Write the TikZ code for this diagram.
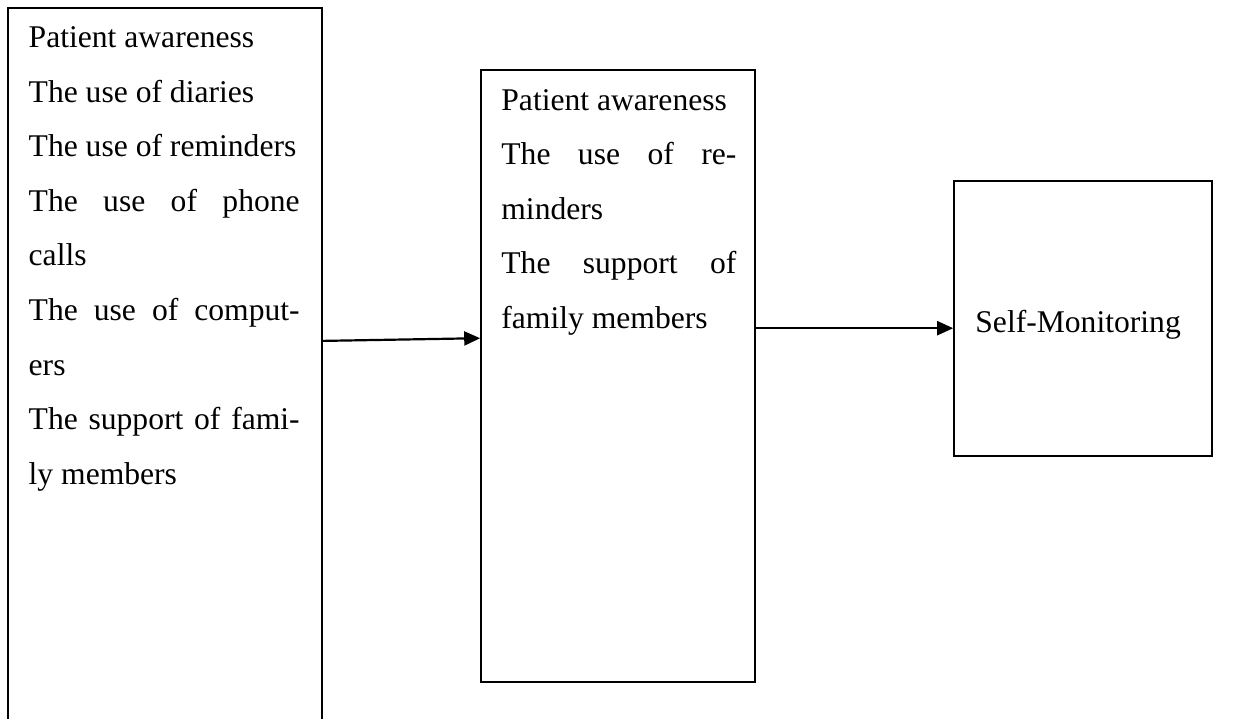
\documentclass[tikz,border=0pt]{standalone}
\usepackage{fontspec}
\setmainfont{Liberation Serif}
\usetikzlibrary{%
  arrows.meta,%
  positioning,%
  calc%
}
\tolerance=10000
\hbadness=10000

\begin{document}
\begin{tikzpicture}[
  x=1pt,y=-1pt,
  font=\fontsize{31.6}{54.6}\selectfont,
  >={Triangle[length=16pt,width=14pt]},
  block/.style={draw,line width=1.6pt,inner sep=0pt},
  itemtext/.style={anchor=base west,inner sep=0pt,align=justify},
  link/.style={->,line width=2.2pt},
]
\useasboundingbox (0,0) rectangle (1248,719);

% boxes
\node[block,minimum width=314pt,minimum height=732pt] (causes) at (165,374) {};
\node[block,minimum width=274pt,minimum height=612pt] (mediators) at (618,376) {};
\node[block,minimum width=258pt,minimum height=275pt] (outcome) at (1083,318.5) {};

% texts
\node[itemtext,text width=271pt] (causestext)
  at ([shift={(21.3pt,-40.3pt)}]causes.north west) {%
  Patient awareness\par
  The use of diaries\par
  The use of reminders\par
  The use of phone\linebreak calls\par
  The use of comput-\linebreak ers\par
  The support of fami-\linebreak ly members};
\node[itemtext,text width=235pt] (mediatorstext)
  at ([shift={(21pt,-41pt)}]mediators.north west) {%
  Patient awareness\par
  The use of re-\linebreak minders\par
  The support of\linebreak family members};
\node[itemtext,text width=230pt] (outcometext)
  at ([shift={(22pt,-152pt)}]outcome.north west) {Self-Monitoring};

% arrows
\draw[link] ([yshift=-333.7pt]causes.north east) -- ([yshift=-269pt]mediators.north west);
\draw[link] ([yshift=-259pt]mediators.north east) -- ([yshift=-148pt]outcome.north west);

\end{tikzpicture}
\end{document}
